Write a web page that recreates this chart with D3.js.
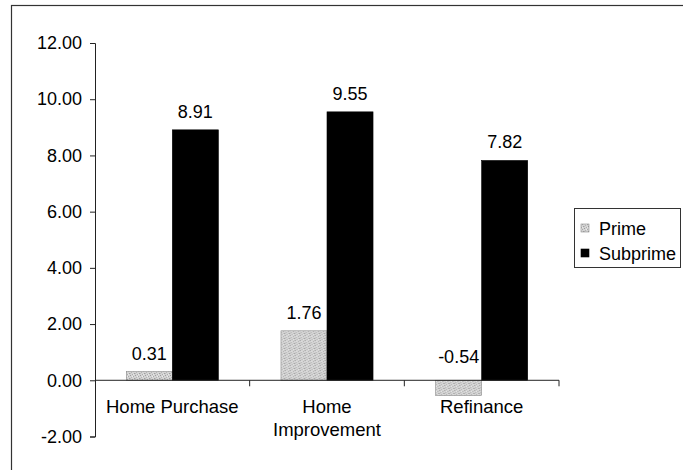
<!DOCTYPE html>
<html>
<head>
    <meta charset="utf-8">
    <script src="https://d3js.org/d3.v7.min.js"></script>
    <style>
        body { margin: 0; background: #fff; }
        svg { display: block; font-family: Arial, "Liberation Sans", sans-serif; }
    </style>
</head>
<body>
    <svg width="683" height="470"></svg>

    <script>
        // chart data
        const categories = ["Home Purchase", "Home Improvement", "Refinance"]
        const seriesNames = ["Prime", "Subprime"]
        const primeValues = [0.31, 1.76, -0.54]
        const subprimeValues = [8.91, 9.55, 7.82]
        const yTicks = [-2, 0, 2, 4, 6, 8, 10, 12]

        const seriesValues = [primeValues, subprimeValues]
        const svg = d3.select("svg")
        // hyphen instead of the unicode minus d3 uses
        const fmt = v => d3.format(".2f")(v).replace("\u2212", "-")

        // stippled grey fill for the prime bars
        const defs = svg.append("defs")
        const pat = defs.append("pattern")
            .attr("id", "stipple")
            .attr("width", 5).attr("height", 5)
            .attr("patternUnits", "userSpaceOnUse")
        pat.append("rect").attr("width", 5).attr("height", 5).attr("fill", "#d4d4d4")
        const dots = [[0, 0, "#9c9c9c"], [3, 1, "#a8a8a8"], [1, 2, "#b4b4b4"], [4, 3, "#9f9f9f"], [2, 4, "#adadad"], [0, 3, "#bdbdbd"], [3, 4, "#e8e8e8"], [2, 1, "#ececec"]]
        dots.forEach(p => {
            pat.append("rect").attr("x", p[0]).attr("y", p[1]).attr("width", 1).attr("height", 1).attr("fill", p[2])
        })

        const fills = ["url(#stipple)", "#000"]
        const strokes = ["#8a8a8a", "#000"]

        // outer chart frame (right and bottom run off the picture)
        svg.append("rect")
            .attr("x", 11.5).attr("y", 5.5)
            .attr("width", 700).attr("height", 500)
            .attr("fill", "none")
            .attr("stroke", "#333")
            .attr("stroke-width", 1.2)

        const x0 = d3.scaleBand().domain(categories).range([95, 559])
        const x1 = d3.scaleBand().domain(seriesNames)
            .range([0, x0.bandwidth()])
            .paddingInner(0)
            .paddingOuter(0.68)
        const y = d3.scaleLinear().domain([-2, 12]).range([436.5, 43])

        // bars
        const groups = svg.append("g")
            .selectAll("g")
            .data(categories)
            .join("g")
            .attr("transform", d => `translate(${x0(d)},0)`)

        groups.selectAll("rect")
            .data((d, i) => seriesNames.map((s, j) => ({ s: s, j: j, v: seriesValues[j][i] })))
            .join("rect")
            .attr("x", d => x1(d.s))
            .attr("y", d => y(Math.max(0, d.v)))
            .attr("width", x1.bandwidth())
            .attr("height", d => Math.abs(y(d.v) - y(0)))
            .attr("fill", d => fills[d.j])
            .attr("stroke", d => strokes[d.j])
            .attr("stroke-width", 0.6)

        // value labels
        groups.selectAll("text")
            .data((d, i) => seriesNames.map((s, j) => ({ s: s, j: j, v: seriesValues[j][i] })))
            .join("text")
            .attr("x", d => x1(d.s) + x1.bandwidth() / 2)
            .attr("y", d => d.v >= 0 ? y(d.v) - 12 : y(0) - 17)
            .attr("text-anchor", "middle")
            .attr("font-size", 18)
            .attr("fill", "#000")
            .text(d => fmt(d.v))

        // y axis
        const yAxis = svg.append("g")
            .attr("transform", "translate(95,0)")
            .call(d3.axisLeft(y).tickValues(yTicks).tickSize(5).tickSizeOuter(5).tickPadding(8).tickFormat(fmt))
        yAxis.selectAll("path, line").attr("stroke", "#222")
        yAxis.selectAll("text").attr("font-size", 18).attr("font-family", null).attr("fill", "#000")

        // x axis line on zero, with ticks between categories
        const xAxis = svg.append("g")
        xAxis.append("line")
            .attr("x1", x0.range()[0]).attr("x2", x0.range()[1])
            .attr("y1", y(0)).attr("y2", y(0))
            .attr("stroke", "#222")
        xAxis.selectAll("line.tick")
            .data(categories)
            .join("line")
            .attr("class", "tick")
            .attr("x1", d => x0(d) + x0.bandwidth()).attr("x2", d => x0(d) + x0.bandwidth())
            .attr("y1", y(0)).attr("y2", y(0) + 6)
            .attr("stroke", "#222")

        // category labels, wrapped when wider than the band
        xAxis.selectAll("text.cat")
            .data(categories)
            .join("text")
            .attr("class", "cat")
            .attr("x", d => x0(d) + x0.bandwidth() / 2)
            .attr("y", y(0) + 33)
            .attr("text-anchor", "middle")
            .attr("font-size", 18.5)
            .attr("fill", "#000")
            .each(function (d) {
                const t = d3.select(this)
                const words = d.split(" ")
                t.text(d)
                if (this.getComputedTextLength() > x0.bandwidth()) {
                    t.text(null)
                    words.forEach((w, k) => {
                        t.append("tspan")
                            .attr("x", x0(d) + x0.bandwidth() / 2)
                            .attr("dy", k === 0 ? 0 : 23)
                            .text(w)
                    })
                }
            })

        // legend
        const legend = svg.append("g").attr("transform", "translate(574,208)")
        legend.append("rect")
            .attr("x", 0.5).attr("y", 0.5)
            .attr("width", 106).attr("height", 59)
            .attr("fill", "#fff")
            .attr("stroke", "#333")
            .attr("stroke-width", 1)
        const items = legend.selectAll("g")
            .data(seriesNames)
            .join("g")
            .attr("transform", (d, i) => `translate(0,${20 + i * 25})`)
        items.append("rect")
            .attr("x", 7).attr("y", -4)
            .attr("width", 8).attr("height", 8)
            .attr("fill", (d, i) => fills[i])
            .attr("stroke", (d, i) => strokes[i])
            .attr("stroke-width", 0.6)
        items.append("text")
            .attr("x", 25).attr("y", 6.5)
            .attr("font-size", 18)
            .attr("fill", "#000")
            .text(d => d)
    </script>
</body>
</html>
